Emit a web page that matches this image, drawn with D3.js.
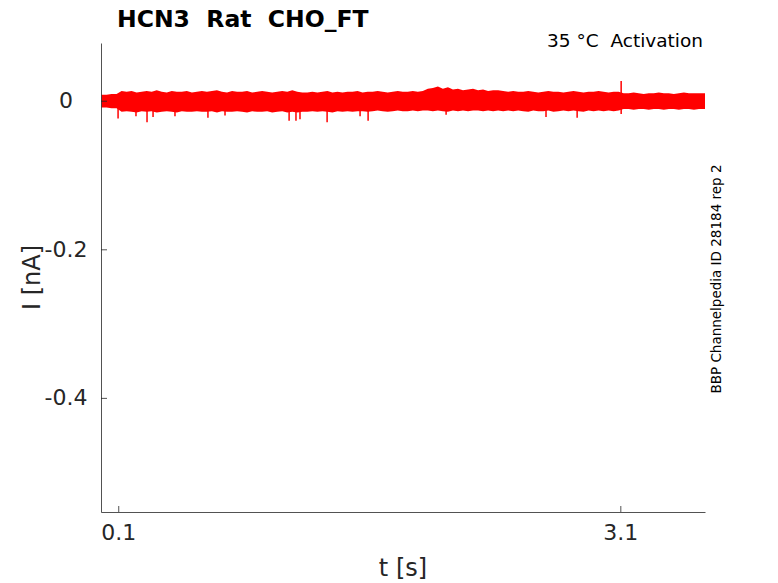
<!DOCTYPE html>
<html>
<head>
<meta charset="utf-8">
<script src="https://cdn.jsdelivr.net/npm/d3@7"></script>
<style>
  body { margin: 0; background: #fff; }
  text { font-family: "DejaVu Sans", sans-serif; fill: #262626; white-space: pre; }
</style>
</head>
<body>
<div id="chart"></div>
<script>
// trace envelope, one bin every 0.03 s starting at t = 0
const binStep = 0.03;
const traceHi = [
  .008,.008,.009,.009,
  .013,.012,.013,.011,.012,.013,.012,.014,.012,.011,.013,.012,.012,.013,.011,.012,.013,
  .012,.013,.014,.012,.011,.013,.012,.012,.013,.011,.012,.013,.012,.011,.012,.013,.012,.014,.012,.011,
  .011,.012,.011,.012,.013,.011,.012,.011,.012,.012,.013,.011,.012,.012,.013,.012,.011,.012,.013,.012,.012,.013,.012,.013,
  .016,.017,.019,.016,.018,.015,.016,.014,.015,.016,.014,.015,.013,.014,.014,.013,
  .012,.013,.012,.012,.013,.012,.011,.012,.013,.012,.012,.011,.012,.013,.012,.011,.012,.012,.013,.012,.011,.012,.012,
  .010,.010,.011,.010,.009,.010,.010,.011,.010,.010,.009,.010,.011,.010,.010,.010,.010
];
const traceLo = [
  -.009,-.009,-.010,-.010,
  -.015,-.014,-.015,-.016,-.014,-.015,-.014,-.016,-.015,-.014,-.015,-.016,-.014,-.015,-.015,-.014,-.015,
  -.015,-.014,-.016,-.014,-.015,-.015,-.014,-.015,-.016,-.014,-.015,-.015,-.014,-.016,-.015,-.014,-.016,-.015,-.016,-.015,
  -.015,-.014,-.015,-.014,-.015,-.016,-.014,-.015,-.014,-.015,-.014,-.014,-.015,-.014,-.013,-.014,-.015,-.014,-.013,-.014,-.014,-.013,-.014,-.013,
  -.013,-.014,-.013,-.014,-.015,-.013,-.014,-.013,-.014,-.013,-.013,-.014,-.013,-.014,-.013,-.014,
  -.013,-.014,-.013,-.014,-.015,-.013,-.014,-.014,-.013,-.015,-.014,-.013,-.014,-.013,-.014,-.015,-.013,-.014,-.013,-.014,-.013,-.014,-.013,
  -.011,-.011,-.012,-.011,-.011,-.012,-.011,-.011,-.012,-.011,-.011,-.012,-.011,-.011,-.012,-.011,-.011
];
// single-sample spikes sticking out of the band
const spikeT = [0.099, 0.206, 0.272, 0.308, 0.439, 0.636, 0.738, 1.121, 1.162, 1.186, 1.348, 1.545, 1.593, 2.059, 2.656, 2.842, 3.105, 3.105];
const spikeV = [-0.024, -0.021, -0.029, -0.022, -0.021, -0.023, -0.020, -0.027, -0.027, -0.025, -0.029, -0.021, -0.027, -0.019, -0.022, -0.023, 0.0265, -0.018];

const xTicks = [0.1, 3.1];
const yTicks = [0, -0.2, -0.4];

const W = 778, H = 583;
const margin = {top: 43, right: 73, bottom: 71, left: 101},
    width = W - margin.left - margin.right,
    height = H - margin.top - margin.bottom;

const svg = d3.select("#chart")
    .append("svg")
    .attr("width", W)
    .attr("height", H);

const g = svg.append("g")
    .attr("transform", `translate(${margin.left},${margin.top})`);

const x = d3.scaleLinear().domain([-0.003, 3.606]).range([0, width]);
const y = d3.scaleLinear().domain([-0.5536, 0.0777]).range([height, 0]);

const bins = traceHi.map((h, i) => ({t: i * binStep, hi: h, lo: traceLo[i]}));
bins.push({t: 3.606, hi: traceHi[traceHi.length - 1], lo: traceLo[traceLo.length - 1]});

// noise band
g.append("path")
    .datum(bins)
    .attr("fill", "#ff0000")
    .attr("d", d3.area()
        .x(d => x(d.t))
        .y0(d => y(d.lo))
        .y1(d => y(d.hi)));

// spikes
g.selectAll(".spike")
    .data(spikeT.map((t, i) => ({t: t, v: spikeV[i]})))
    .join("line")
    .attr("class", "spike")
    .attr("x1", d => x(d.t)).attr("x2", d => x(d.t))
    .attr("y1", y(0)).attr("y2", d => y(d.v))
    .attr("stroke", "#ff0000")
    .attr("stroke-width", 1.5);

// axes
const xAxis = g.append("g")
    .attr("transform", `translate(0,${height})`)
    .call(d3.axisBottom(x).tickValues(xTicks).tickSizeInner(-6).tickSizeOuter(0).tickPadding(12)
        .tickFormat(d3.format(".1f")));
const yAxis = g.append("g")
    .call(d3.axisLeft(y).tickValues(yTicks).tickSizeInner(-6).tickSizeOuter(0).tickPadding(14)
        .tickFormat(d => d === 0 ? "0" : d3.format(".1f")(d).replace("−", "-")));

[xAxis, yAxis].forEach(a => {
    a.select(".domain").attr("stroke", "#262626").attr("stroke-width", 0.8);
    a.selectAll(".tick line").attr("stroke", "#262626").attr("stroke-width", 0.8);
    a.selectAll(".tick text").attr("font-size", 22).attr("fill", "#262626")
        .style("font-family", "DejaVu Sans, sans-serif");
});
// y labels sit centred in the left gutter
yAxis.selectAll(".tick text").attr("text-anchor", "middle").attr("x", 66 - margin.left);

// labels
svg.append("text")
    .attr("x", margin.left + width / 2)
    .attr("y", 576)
    .attr("text-anchor", "middle")
    .attr("font-size", 24)
    .text("t [s]");

svg.append("text")
    .attr("transform", `translate(40,${margin.top + height / 2}) rotate(-90)`)
    .attr("text-anchor", "middle")
    .attr("font-size", 24)
    .text("I [nA]");

svg.append("text")
    .attr("x", 117)
    .attr("y", 27)
    .attr("font-size", 23.5)
    .attr("font-weight", "bold")
    .style("fill", "#000")
    .text("HCN3  Rat  CHO_FT");

svg.append("text")
    .attr("x", 703)
    .attr("y", 47)
    .attr("text-anchor", "end")
    .attr("font-size", 18.5)
    .style("fill", "#000")
    .text("35 °C  Activation");

svg.append("text")
    .attr("transform", "translate(721,279) rotate(-90)")
    .attr("text-anchor", "middle")
    .attr("font-size", 13.5)
    .style("fill", "#000")
    .text("BBP Channelpedia ID 28184 rep 2");
</script>
</body>
</html>
